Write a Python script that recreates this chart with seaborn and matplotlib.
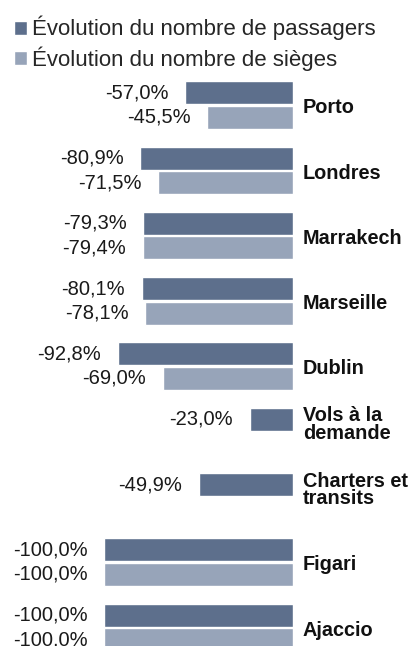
import numpy as np
import pandas as pd
import seaborn as sns
import matplotlib.pyplot as plt
from matplotlib.patches import Patch

## Data
categories = ["Porto", "Londres", "Marrakech", "Marseille", "Dublin",
              "Vols à la\ndemande", "Charters et\ntransits", "Figari", "Ajaccio"]
passagers = [-57.0, -80.9, -79.3, -80.1, -92.8, -23.0, -49.9, -100.0, -100.0]
sieges = [-45.5, -71.5, -79.4, -78.1, -69.0, np.nan, np.nan, -100.0, -100.0]
series_names = ["Évolution du nombre de passagers", "Évolution du nombre de sièges"]
colors = ["#5d6f8c", "#97a4b9"]

sns.set_style("white")
plt.rcParams['font.family'] = ['Liberation Sans', 'DejaVu Sans']

df = pd.DataFrame({
    "cat": categories * 2,
    "serie": [series_names[0]] * len(categories) + [series_names[1]] * len(categories),
    "value": passagers + sieges,
})

fig = plt.figure(figsize=(4.12, 6.46), dpi=100)
# zero line sits at x=293px of 412
ax = fig.add_axes([0, 0, 293 / 412, 1])

sns.barplot(data=df, y="cat", x="value", hue="serie", order=categories,
            hue_order=series_names, palette=colors, orient="h",
            width=0.75, gap=0.06, saturation=1, legend=False, ax=ax)

ax.set_xlim(-100 * 293 / 189, 0)
ax.set_ylim(8.285, -1.608)
ax.set_xlabel("")
ax.set_ylabel("")
ax.set_xticks([])
ax.set_yticks([])
for s in ax.spines.values():
    s.set_visible(False)

# value labels left of each bar
for container in ax.containers:
    for bar in container:
        w = bar.get_width()
        if np.isnan(w) or w == 0:
            continue
        yc = bar.get_y() + bar.get_height() / 2
        ax.annotate(f"{w:.1f}%".replace(".", ","), xy=(w, yc), xytext=(-12, 0),
                    textcoords="offset points", ha="right", va="center",
                    fontsize=14.5, color="#1a1a1a", annotation_clip=False)

# category labels right of zero (two-line ones sit a bit higher)
for i, c in enumerate(categories):
    dy = 5 if "\n" in c else -2
    ax.annotate(c, xy=(0, i), xytext=(7, dy), textcoords="offset points",
                ha="left", va="center", fontsize=14.3, fontweight="bold",
                linespacing=0.9, color="#111111", annotation_clip=False)

handles = [Patch(facecolor=colors[0]), Patch(facecolor=colors[1])]
fig.legend(handles, series_names, loc="upper left",
           bbox_to_anchor=(14 / 412, 1 - 16 / 646),
           frameon=False, fontsize=16, handlelength=0.6, handleheight=0.6,
           handletextpad=0.2, labelspacing=0.25, borderpad=0, borderaxespad=0)

fig.savefig("out.png", dpi=100)
